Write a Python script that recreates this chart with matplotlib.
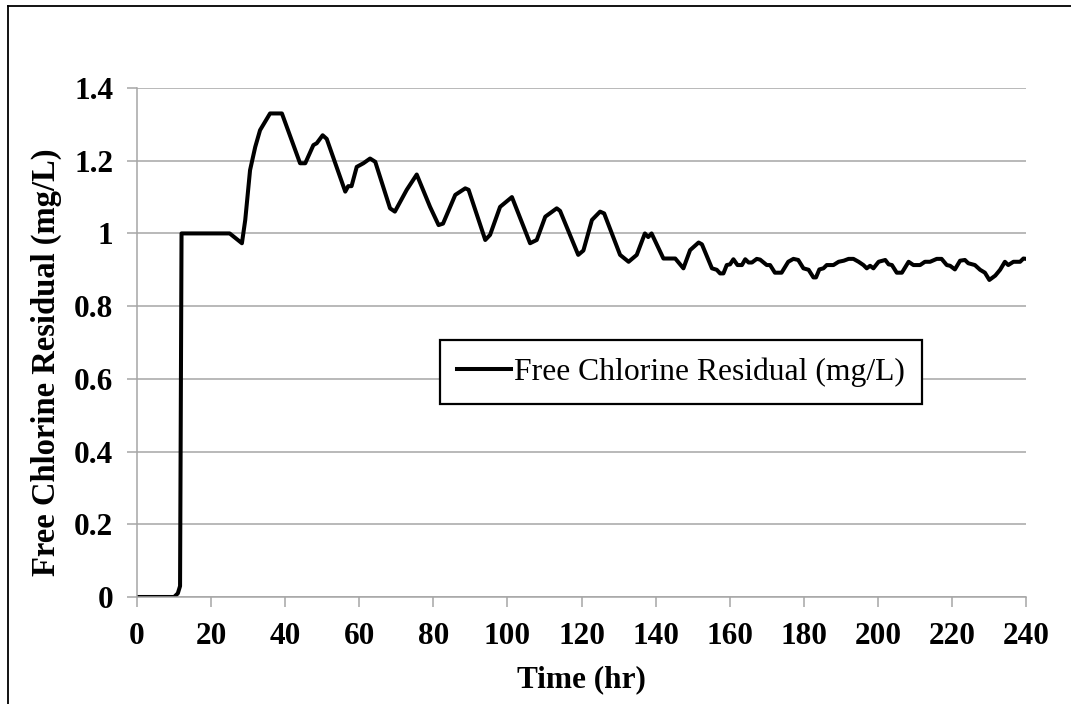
import matplotlib
matplotlib.use("Agg")
import matplotlib.pyplot as plt
from matplotlib.lines import Line2D

# time (hr) and free chlorine residual (mg/L)
time_hr = [0, 10, 11, 11.6, 12, 25, 28.3, 29.2, 30.5, 31.9, 33.2, 35.9, 39.1,
           44, 45.4, 47.6, 48.5, 50.1, 51.2, 56.2, 57, 57.9, 59.3, 61.1, 62.9,
           64.3, 68.3, 69.6, 72.8, 75.5, 79.1, 81.4, 82.6, 85.9, 88.6, 89.5,
           94, 95.3, 98, 101.2, 106.1, 107.9, 110.2, 113.3, 114.2, 119.1,
           120.5, 122.8, 125, 126.1, 130.4, 132.7, 134.9, 137.1, 138, 138.9,
           142.1, 145.3, 147.5, 149.3, 151.6, 152.5, 155.2, 156.5, 157.4,
           158.3, 159.2, 160.1, 161, 162.1, 163.3, 164.2, 165.1, 166, 167.3,
           168.2, 170, 170.9, 172.2, 174, 175.8, 177.2, 178.5, 179.9, 181.3,
           182.6, 183.3, 184.2, 185.3, 186.2, 188, 189.4, 190.8, 192.1, 193.4,
           194.8, 196.1, 197, 197.9, 198.8, 200.2, 202, 202.9, 203.8, 205.1,
           206.5, 208.3, 209.6, 211.4, 212.7, 214.1, 215.9, 217.2, 218.6,
           219.5, 220.8, 222.2, 223.5, 224.4, 226.2, 227.6, 228.9, 230.1,
           231.7, 233, 234.3, 235.2, 236.6, 238.4, 239.3, 240]
chlorine = [0, 0, 0.01, 0.03, 1.0, 1.0, 0.973, 1.037, 1.174, 1.238, 1.284,
            1.33, 1.33, 1.193, 1.193, 1.243, 1.248, 1.27, 1.26, 1.115, 1.13,
            1.13, 1.183, 1.193, 1.206, 1.197, 1.069, 1.06, 1.12, 1.162, 1.073,
            1.023, 1.027, 1.106, 1.124, 1.12, 0.982, 0.996, 1.073, 1.10, 0.973,
            0.982, 1.046, 1.069, 1.062, 0.941, 0.953, 1.037, 1.06, 1.055, 0.941,
            0.922, 0.941, 1.0, 0.99, 1.0, 0.931, 0.931, 0.904, 0.954, 0.975,
            0.97, 0.904, 0.9, 0.89, 0.89, 0.913, 0.915, 0.929, 0.913, 0.913,
            0.929, 0.92, 0.92, 0.93, 0.928, 0.913, 0.913, 0.892, 0.892, 0.922,
            0.93, 0.927, 0.904, 0.9, 0.879, 0.879, 0.901, 0.904, 0.913, 0.913,
            0.922, 0.925, 0.93, 0.93, 0.922, 0.913, 0.904, 0.911, 0.904, 0.922,
            0.927, 0.915, 0.913, 0.892, 0.892, 0.922, 0.913, 0.913, 0.922,
            0.922, 0.93, 0.93, 0.913, 0.911, 0.901, 0.925, 0.927, 0.918, 0.913,
            0.9, 0.892, 0.872, 0.884, 0.9, 0.922, 0.913, 0.922, 0.922, 0.931,
            0.93]

x_ticks = list(range(0, 241, 20))
y_ticks = [0, 0.2, 0.4, 0.6, 0.8, 1, 1.2, 1.4]
y_tick_labels = ["0", "0.2", "0.4", "0.6", "0.8", "1", "1.2", "1.4"]

plt.rcParams["font.family"] = ["Liberation Serif", "DejaVu Serif"]

fig = plt.figure(figsize=(10.71, 7.04), dpi=100)
ax = fig.add_axes([0.128, 0.152, 0.830, 0.723])

ax.plot(time_hr, chlorine, color="black", linewidth=2.9,
        label="Free Chlorine Residual (mg/L)", solid_joinstyle="round")

ax.set_xlim(0, 240)
ax.set_ylim(0, 1.4)
ax.set_xticks(x_ticks)
ax.set_yticks(y_ticks)
ax.set_yticklabels(y_tick_labels)

grid_color = "#a6a6a6"
ax.grid(axis="y", color=grid_color, linewidth=1.1)
ax.set_axisbelow(True)
for side in ["top", "right"]:
    ax.spines[side].set_visible(False)
for side in ["left", "bottom"]:
    ax.spines[side].set_color(grid_color)
    ax.spines[side].set_linewidth(1.1)
ax.tick_params(axis="both", direction="out", length=7, width=1.1,
               color=grid_color, labelsize=22.5, pad=10)
ax.tick_params(axis="x", pad=11)
for lbl in ax.get_xticklabels() + ax.get_yticklabels():
    lbl.set_fontweight("bold")

ax.set_xlabel("Time (hr)", fontsize=22.5, fontweight="bold", labelpad=10)
ax.set_ylabel("Free Chlorine Residual (mg/L)", fontsize=23.5,
              fontweight="bold")
ax.yaxis.set_label_coords(-0.085, 0.462)

leg = ax.legend(loc="center", bbox_to_anchor=(0.612, 0.442), fontsize=22.8,
                frameon=True, fancybox=False, handlelength=1.7,
                handletextpad=0.1, borderpad=0.55, borderaxespad=0)
leg.get_frame().set_edgecolor("black")
leg.get_frame().set_linewidth(1.6)
leg.get_frame().set_alpha(1)

# outer border (top and left edges only, as in the source)
fig.add_artist(Line2D([8 / 1071, 1], [1 - 6 / 704, 1 - 6 / 704],
                      transform=fig.transFigure, color="black", linewidth=1.3))
fig.add_artist(Line2D([8 / 1071, 8 / 1071], [0, 1 - 6 / 704],
                      transform=fig.transFigure, color="black", linewidth=1.3))

fig.savefig("out.png", dpi=100)
